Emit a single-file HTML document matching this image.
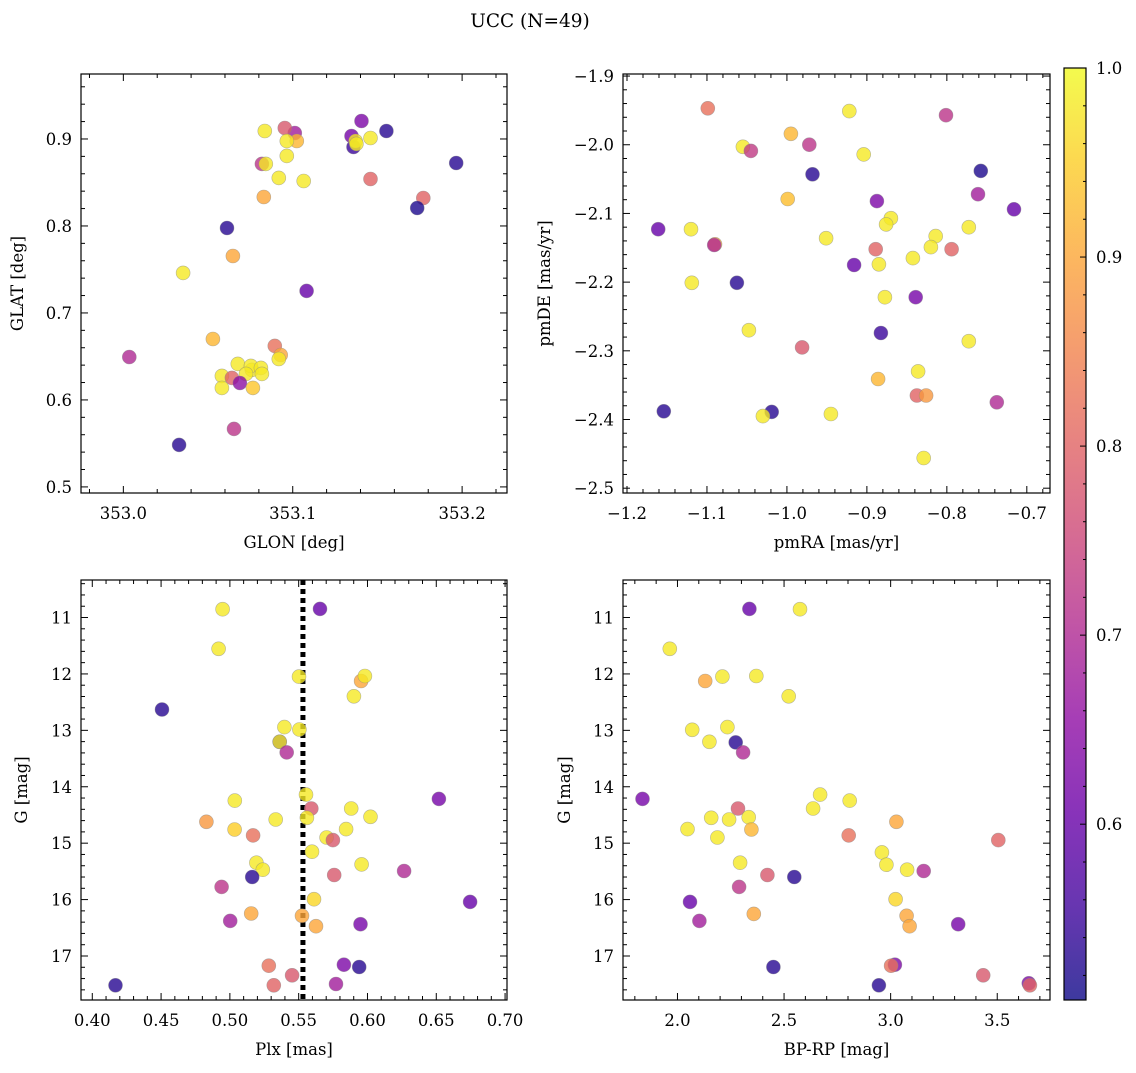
<!DOCTYPE html>
<html><head><meta charset="utf-8"><style>
body{margin:0;background:#fff;}
svg text{font-family:"DejaVu Serif","Liberation Serif",serif;fill:#000;}
</style></head><body>
<svg id="fig" width="1136" height="1068" viewBox="0 0 1136 1068" xmlns="http://www.w3.org/2000/svg">
<text x="530" y="27" font-size="18.5" text-anchor="middle">UCC (N=49)</text>
</svg>
<script>
// ---- Panel 1: GLON vs GLAT ----
const glonA=[353.1012,353.0953,353.1024,353.0835,353.0965,353.0818,353.0841,353.0965,353.0918,353.0829,353.1065,353.1406,353.1347,353.1359,353.1371,353.1376,353.1459,353.1553,353.1459,353.1965,353.1771,353.1735,353.0612,353.0647,353.0353,353.1082,353.0529,353.0894,353.0929,353.0918,353.0676,353.0582,353.0759,353.0753,353.0812,353.0724,353.0641,353.0688,353.0818,353.0582,353.0765,353.0653,353.0035,353.0329];
const glatA=[0.9069,0.9126,0.8977,0.9092,0.8977,0.8713,0.8713,0.8805,0.8552,0.8333,0.8517,0.9207,0.9034,0.8908,0.8977,0.8943,0.9011,0.9092,0.854,0.8724,0.8322,0.8207,0.7977,0.7655,0.746,0.7253,0.6701,0.6621,0.6517,0.6471,0.6414,0.6276,0.6345,0.6391,0.6368,0.6299,0.6253,0.6195,0.6299,0.6138,0.6138,0.5667,0.6494,0.5483];
const probA=[0.68,0.78,0.92,0.98,0.98,0.72,0.98,0.98,0.98,0.9,0.98,0.63,0.62,0.55,0.98,0.98,0.98,0.53,0.8,0.53,0.8,0.52,0.53,0.9,0.98,0.6,0.92,0.82,0.9,0.98,0.98,0.98,0.98,0.98,0.98,0.98,0.8,0.65,0.98,0.98,0.94,0.72,0.7,0.53];
// ---- Panel 2: pmRA vs pmDE ----
const pmraB=[-1.099,-0.922,-0.801,-0.995,-1.055,-1.045,-0.972,-0.904,-0.968,-0.7575,-0.761,-0.716,-0.999,-0.8875,-1.12,-1.161,-1.09,-1.091,-0.951,-0.87,-0.876,-0.7725,-0.814,-0.82,-0.794,-0.889,-0.8425,-0.916,-0.885,-1.119,-1.0625,-0.8775,-0.839,-0.8825,-1.0475,-0.981,-0.7725,-0.836,-0.886,-0.8375,-0.826,-0.7375,-1.154,-1.019,-0.945,-1.03,-0.829];
const pmdeB=[-1.947,-1.951,-1.957,-1.984,-2.003,-2.009,-2.0,-2.014,-2.043,-2.038,-2.072,-2.094,-2.079,-2.082,-2.123,-2.123,-2.145,-2.146,-2.136,-2.107,-2.116,-2.12,-2.133,-2.149,-2.152,-2.152,-2.165,-2.175,-2.174,-2.201,-2.201,-2.222,-2.222,-2.274,-2.27,-2.295,-2.286,-2.33,-2.341,-2.365,-2.365,-2.375,-2.388,-2.389,-2.392,-2.395,-2.456];
const probB=[0.82,0.98,0.72,0.92,0.98,0.73,0.72,0.98,0.53,0.52,0.68,0.6,0.93,0.63,0.98,0.6,0.9,0.7,0.98,0.98,0.98,0.98,0.98,0.98,0.8,0.8,0.98,0.6,0.98,0.98,0.53,0.98,0.62,0.55,0.98,0.78,0.98,0.98,0.92,0.8,0.88,0.7,0.53,0.53,0.98,0.98,0.98];
// ---- Panel 3: Plx vs G ----
const plxC=[0.4947,0.5655,0.4918,0.4507,0.5502,0.5954,0.5981,0.5901,0.5396,0.5505,0.5362,0.5362,0.5413,0.6519,0.5553,0.5592,0.5882,0.6022,0.556,0.5036,0.4829,0.5333,0.5034,0.5169,0.5845,0.5703,0.5749,0.5597,0.5193,0.5239,0.5957,0.5758,0.6266,0.5162,0.494,0.6746,0.5611,0.5155,0.5524,0.5626,0.5002,0.5949,0.5283,0.5452,0.5829,0.594,0.5319,0.5771,0.4169];
const gC=[10.853,10.847,11.554,12.631,12.048,12.125,12.037,12.396,12.943,12.985,13.203,13.203,13.391,14.216,14.139,14.386,14.386,14.533,14.551,14.245,14.622,14.581,14.757,14.863,14.751,14.899,14.946,15.152,15.346,15.47,15.376,15.564,15.494,15.6,15.776,16.041,15.994,16.247,16.288,16.471,16.377,16.436,17.172,17.343,17.154,17.195,17.519,17.496,17.519];
const probC=[0.98,0.6,0.98,0.53,0.98,0.9,0.98,0.98,0.98,0.98,0.53,0.98,0.7,0.62,0.98,0.78,0.98,0.98,0.98,0.98,0.88,0.98,0.95,0.82,0.98,0.98,0.78,0.98,0.98,0.98,0.98,0.78,0.7,0.53,0.72,0.6,0.96,0.9,0.9,0.9,0.68,0.62,0.82,0.78,0.63,0.53,0.8,0.68,0.53];
const plxMedian=0.5531;
// ---- Panel 4: BP-RP vs G ----
const bprpD=[2.3375,2.575,1.964,2.13,2.211,2.37,2.522,2.069,2.234,2.15,2.273,2.308,1.836,2.669,2.808,2.636,2.284,2.158,2.242,2.334,2.347,2.047,2.1875,3.027,2.803,3.505,2.959,2.98,3.077,3.155,2.294,2.422,2.548,2.289,2.059,3.023,2.358,3.075,3.089,2.103,3.317,2.45,3.02,3.002,3.434,2.945,3.648,3.653];
const gD=[10.847,10.853,11.554,12.125,12.048,12.037,12.396,12.991,12.943,13.203,13.214,13.391,14.216,14.139,14.245,14.386,14.386,14.551,14.581,14.539,14.757,14.751,14.899,14.622,14.863,14.946,15.164,15.382,15.47,15.494,15.346,15.564,15.6,15.776,16.041,15.994,16.253,16.288,16.471,16.377,16.436,17.195,17.154,17.172,17.343,17.519,17.484,17.519];
const probD=[0.6,0.98,0.98,0.9,0.98,0.98,0.98,0.98,0.98,0.98,0.53,0.7,0.62,0.98,0.98,0.98,0.78,0.98,0.98,0.98,0.92,0.98,0.98,0.9,0.82,0.8,0.98,0.98,0.98,0.7,0.98,0.78,0.53,0.72,0.6,0.96,0.9,0.9,0.9,0.68,0.62,0.53,0.63,0.82,0.78,0.53,0.63,0.8];
const cbTicks=[0.6,0.7,0.8,0.9,1.0];
const cbMin=0.507, cbMax=1.0;

const NS="http://www.w3.org/2000/svg";
const svg=document.getElementById('fig');
const FS=16.5;
function mk(tag,attrs,parent){const e=document.createElementNS(NS,tag);for(const k in attrs)e.setAttribute(k,attrs[k]);(parent||svg).appendChild(e);return e;}
const stops=[[13,8,135],[65,4,157],[106,0,168],[143,13,164],[177,42,144],[204,71,120],[225,100,98],[242,132,75],[252,166,54],[252,206,37],[240,249,33]];
function plasma(t){t=Math.max(0,Math.min(1,t));const s=t*10,i=Math.min(9,Math.floor(s)),f=s-i;const a=stops[i],b=stops[i+1];return 'rgb('+a.map((v,k)=>Math.round(v+(b[k]-v)*f)).join(',')+')';}
function pcol(p){return plasma((p-cbMin)/(cbMax-cbMin));}

function panel(o){
  const g=mk('g',{});
  
  
  const X=v=>o.x0+(v-o.xmin)/(o.xmax-o.xmin)*(o.x1-o.x0);
  const Y=o.invY?(v=>o.y0+(v-o.ymin)/(o.ymax-o.ymin)*(o.y1-o.y0)):(v=>o.y1-(v-o.ymin)/(o.ymax-o.ymin)*(o.y1-o.y0));
  if(o.vline!==undefined){const l=mk('line',{x1:X(o.vline),x2:X(o.vline),y1:o.y0,y2:o.y1,stroke:'#000','stroke-width':5,'stroke-dasharray':'5,4'},g);
    }
  const pts=mk('g',{},g);
  for(let i=0;i<o.xs.length;i++){
    const c=mk('circle',{cx:X(o.xs[i]).toFixed(1),cy:Y(o.ys[i]).toFixed(1),r:7,fill:pcol(o.ps[i]),'fill-opacity':0.8,stroke:'#888','stroke-opacity':0.6,'stroke-width':0.6},pts);
    
    
  }
  mk('rect',{x:o.x0,y:o.y0,width:o.x1-o.x0,height:o.y1-o.y0,fill:'none',stroke:'#000','stroke-width':1.2},g);
  const eps=1e-9;
  for(let v=Math.ceil(o.xmin/o.xmn-eps)*o.xmn;v<=o.xmax+eps;v+=o.xmn){
    const isMaj=Math.abs(v/o.xmj-Math.round(v/o.xmj))<1e-6;const L=isMaj?7:4;const x=X(v);
    mk('line',{x1:x,x2:x,y1:o.y1,y2:o.y1-L,stroke:'#000','stroke-width':1},g);
    mk('line',{x1:x,x2:x,y1:o.y0,y2:o.y0+L,stroke:'#000','stroke-width':1},g);
  }
  for(let v=Math.ceil(o.ymin/o.ymn-eps)*o.ymn;v<=o.ymax+eps;v+=o.ymn){
    const isMaj=Math.abs(v/o.ymj-Math.round(v/o.ymj))<1e-6;const L=isMaj?7:4;const y=Y(v);
    mk('line',{x1:o.x0,x2:o.x0+L,y1:y,y2:y,stroke:'#000','stroke-width':1},g);
    mk('line',{x1:o.x1,x2:o.x1-L,y1:y,y2:y,stroke:'#000','stroke-width':1},g);
  }
  o.xt.forEach((v,i)=>{const t=mk('text',{x:X(v),y:o.y1+26,'font-size':FS,'text-anchor':'middle'},g);t.textContent=o.xl[i];
    });
  o.yt.forEach((v,i)=>{const t=mk('text',{x:o.x0-9,y:Y(v)+6,'font-size':FS,'text-anchor':'end'},g);t.textContent=o.yl[i];
    });
  const xt=mk('text',{x:(o.x0+o.x1)/2,y:o.y1+55,'font-size':FS,'text-anchor':'middle'},g);xt.textContent=o.xlabel;
  
  const yt=mk('text',{x:o.ylx,y:(o.y0+o.y1)/2,'font-size':FS,'text-anchor':'middle',transform:`rotate(-90 ${o.ylx} ${(o.y0+o.y1)/2})`},g);yt.textContent=o.ylabel;
  
}
const m='\u2212';
panel({name:'glon-glat-panel',x0:81,x1:507,y0:74,y1:493,xmin:352.975,xmax:353.2265,ymin:0.493,ymax:0.9747,xmj:0.1,xmn:0.02,ymj:0.1,ymn:0.02,
  xs:glonA,ys:glatA,ps:probA,xt:[353.0,353.1,353.2],xl:['353.0','353.1','353.2'],yt:[0.5,0.6,0.7,0.8,0.9],yl:['0.5','0.6','0.7','0.8','0.9'],xlabel:'GLON [deg]',ylabel:'GLAT [deg]',ylx:23});
panel({name:'pm-panel',x0:623,x1:1050,y0:74,y1:493,xmin:-1.205,xmax:-0.671,ymin:-2.507,ymax:-1.897,xmj:0.1,xmn:0.02,ymj:0.1,ymn:0.02,
  xs:pmraB,ys:pmdeB,ps:probB,xt:[-1.2,-1.1,-1.0,-0.9,-0.8,-0.7],xl:[m+'1.2',m+'1.1',m+'1.0',m+'0.9',m+'0.8',m+'0.7'],
  yt:[-1.9,-2.0,-2.1,-2.2,-2.3,-2.4,-2.5],yl:[m+'1.9',m+'2.0',m+'2.1',m+'2.2',m+'2.3',m+'2.4',m+'2.5'],xlabel:'pmRA [mas/yr]',ylabel:'pmDE [mas/yr]',ylx:550});
panel({name:'plx-g-panel',x0:81,x1:507,y0:580,y1:1000,xmin:0.3918,xmax:0.7014,ymin:10.335,ymax:17.78,invY:true,xmj:0.05,xmn:0.01,ymj:1,ymn:0.2,
  xs:plxC,ys:gC,ps:probC,vline:plxMedian,xt:[0.40,0.45,0.50,0.55,0.60,0.65,0.70],xl:['0.40','0.45','0.50','0.55','0.60','0.65','0.70'],
  yt:[11,12,13,14,15,16,17],yl:['11','12','13','14','15','16','17'],xlabel:'Plx [mas]',ylabel:'G [mag]',ylx:27});
panel({name:'bprp-g-panel',x0:623,x1:1050,y0:580,y1:1000,xmin:1.7445,xmax:3.7475,ymin:10.335,ymax:17.78,invY:true,xmj:0.5,xmn:0.1,ymj:1,ymn:0.2,
  xs:bprpD,ys:gD,ps:probD,xt:[2.0,2.5,3.0,3.5],xl:['2.0','2.5','3.0','3.5'],
  yt:[11,12,13,14,15,16,17],yl:['11','12','13','14','15','16','17'],xlabel:'BP-RP [mag]',ylabel:'G [mag]',ylx:570});
const cb=mk('g',{});


const defs=mk('defs',{},cb);
const lg=mk('linearGradient',{id:'cbg',x1:0,y1:1,x2:0,y2:0},defs);
for(let i=0;i<=20;i++){mk('stop',{offset:(i/20),'stop-color':plasma(i/20),'stop-opacity':0.8},lg);}
const cx0=1064,cx1=1086,cy0=68,cy1=1000;
mk('rect',{x:cx0,y:cy0,width:cx1-cx0,height:cy1-cy0,fill:'url(#cbg)',stroke:'#000','stroke-width':1.2},cb);
const CY=v=>cy1-(v-cbMin)/(cbMax-cbMin)*(cy1-cy0);
for(let v=0.52;v<=1.0001;v+=0.02){const y=CY(v);const maj=Math.abs(v*10-Math.round(v*10))<1e-6;
  mk('line',{x1:cx1,x2:cx1-(maj?6:3),y1:y,y2:y,stroke:'#000','stroke-width':1},cb);}
cbTicks.forEach(v=>{const t=mk('text',{x:cx1+10,y:CY(v)+6,'font-size':FS},cb);t.textContent=v.toFixed(1);
  });
</script>
</body></html>
